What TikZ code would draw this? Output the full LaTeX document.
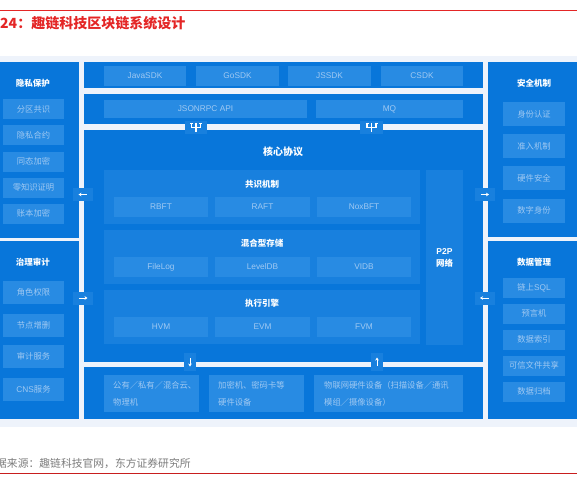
\documentclass[tikz,border=0pt]{standalone}
\usepackage{fontspec}
\setmainfont{Noto Sans CJK SC}
\newfontfamily\lat{Liberation Sans}
\usetikzlibrary{arrows.meta,calc}
\definecolor{bgc}{RGB}{238,243,251}
\definecolor{mainb}{RGB}{8,118,218}
\definecolor{subb}{RGB}{24,128,222}
\definecolor{boxb}{RGB}{40,139,227}
\definecolor{txtb}{RGB}{160,201,242}
\definecolor{redl}{RGB}{228,38,38}
\definecolor{redb}{RGB}{200,30,30}
\definecolor{grayt}{RGB}{125,125,125}
\begin{document}
\begin{tikzpicture}[x=1pt,y=-1pt,
  panel/.style={fill=mainb, inner sep=0pt, outer sep=0pt},
  subp/.style={fill=subb, inner sep=0pt, outer sep=0pt},
  box/.style={fill=boxb, text=txtb, inner sep=0pt, outer sep=0pt, font=\fontsize{8.3}{10}\selectfont},
  lbox/.style={box, font=\lat\fontsize{8.3}{10}\selectfont},
  ptitle/.style={text=white, inner sep=0pt, font=\bfseries\fontsize{8.5}{10}\selectfont},
  abox/.style={fill=subb, inner sep=0pt, outer sep=0pt},
  arr/.style={white, line width=1pt, -{Stealth[length=3pt,width=3.6pt]}},
  icon/.style={white, line width=1.3pt},
  btxt/.style={text=txtb, inner sep=0pt, align=left, font=\fontsize{8.3}{17}\selectfont},
]
\useasboundingbox (0,0) rectangle (577,483);
\clip (0,0) rectangle (577,483);
\fill[white] (0,0) rectangle (577,483);
% header and footer
\coordinate (rl1) at (0,10); \coordinate (rl2) at (577,10);
\draw[redl, line width=1pt] (rl1) -- (rl2);
\node[anchor=west, inner sep=0pt, text=redl, font=\bfseries\fontsize{14}{16}\selectfont] (title) at (0,23) {24：趣链科技区块链系统设计};
\coordinate (bl1) at (0,473); \coordinate (bl2) at (577,473);
\draw[redb, line width=1pt] (bl1) -- (bl2);
\node[anchor=west, inner sep=0pt, text=grayt, font=\fontsize{10.8}{12}\selectfont] (src) at (-4,463) {据来源：趣链科技官网，东方证券研究所};
% background band
\fill[bgc] (0,56) rectangle (577,427);

% ---------- left column ----------
\node[panel, minimum width=79, minimum height=176] (lp1) at (39.5,150) {};
\node[ptitle] (lp1t) at (33,83) {隐私保护};
\node[box, minimum width=61, minimum height=20] (l11) at (33.5,109) {分区共识};
\node[box, minimum width=61, minimum height=20] (l12) at (33.5,135) {隐私合约};
\node[box, minimum width=61, minimum height=20] (l13) at (33.5,161.5) {同态加密};
\node[box, minimum width=61, minimum height=20] (l14) at (33.5,187.5) {零知识证明};
\node[box, minimum width=61, minimum height=20] (l15) at (33.5,213.5) {账本加密};

\node[panel, minimum width=79, minimum height=178] (lp2) at (39.5,330) {};
\node[ptitle] (lp2t) at (33,262) {治理审计};
\node[box, minimum width=61, minimum height=23] (l21) at (33.5,292.5) {角色权限};
\node[box, minimum width=61, minimum height=23] (l22) at (33.5,325) {节点增删};
\node[box, minimum width=61, minimum height=23] (l23) at (33.5,356.5) {审计服务};
\node[box, minimum width=61, minimum height=23] (l24) at (33.5,389) {{\lat CNS}服务};

% ---------- right column ----------
\node[panel, minimum width=89, minimum height=175] (rp1) at (532.5,149.5) {};
\node[ptitle] (rp1t) at (534,83) {安全机制};
\node[box, minimum width=62, minimum height=24] (r11) at (534,114) {身份认证};
\node[box, minimum width=62, minimum height=24] (r12) at (534,146) {准入机制};
\node[box, minimum width=62, minimum height=24] (r13) at (534,178) {硬件安全};
\node[box, minimum width=62, minimum height=24] (r14) at (534,210.5) {数字身份};

\node[panel, minimum width=89, minimum height=178] (rp2) at (532.5,330) {};
\node[ptitle] (rp2t) at (534,262) {数据管理};
\node[box, minimum width=62, minimum height=20] (r21) at (534,288) {链上{\lat SQL}};
\node[box, minimum width=62, minimum height=20] (r22) at (534,313.5) {预言机};
\node[box, minimum width=62, minimum height=20] (r23) at (534,339.5) {数据索引};
\node[box, minimum width=62, minimum height=20] (r24) at (534,365.5) {可信文件共享};
\node[box, minimum width=62, minimum height=20] (r25) at (534,391.5) {数据归档};

% ---------- center column ----------
\node[panel, minimum width=399, minimum height=26] (sdk) at (283.5,75) {};
\node[lbox, minimum width=82, minimum height=20] (java) at (145,76) {JavaSDK};
\node[lbox, minimum width=83, minimum height=20] (go) at (237.5,76) {GoSDK};
\node[lbox, minimum width=83, minimum height=20] (js) at (329.5,76) {JSSDK};
\node[lbox, minimum width=82, minimum height=20] (cs) at (422,76) {CSDK};

\node[panel, minimum width=399, minimum height=30] (api) at (283.5,109) {};
\node[lbox, minimum width=203, minimum height=18] (rpc) at (205.5,109) {JSONRPC API};
\node[lbox, minimum width=147, minimum height=18] (mq) at (389.5,109) {MQ};

\node[panel, minimum width=399, minimum height=232] (core) at (283.5,246) {};
\node[text=white, inner sep=0pt, font=\bfseries\fontsize{10}{12}\selectfont] (coret) at (283,152) {核心协议};

\node[subp, minimum width=316, minimum height=54] (cons) at (262,197) {};
\node[ptitle] (const) at (262,184) {共识机制};
\node[lbox, minimum width=94, minimum height=20] (rbft) at (161,207) {RBFT};
\node[lbox, minimum width=95, minimum height=20] (raft) at (262.5,207) {RAFT};
\node[lbox, minimum width=94, minimum height=20] (nox) at (364,207) {NoxBFT};

\node[subp, minimum width=316, minimum height=54] (stor) at (262,257) {};
\node[ptitle] (stort) at (262,243) {混合型存储};
\node[lbox, minimum width=94, minimum height=20] (flog) at (161,267) {FileLog};
\node[lbox, minimum width=95, minimum height=20] (ldb) at (262.5,267) {LevelDB};
\node[lbox, minimum width=94, minimum height=20] (vidb) at (364,267) {VIDB};

\node[subp, minimum width=316, minimum height=54] (exec) at (262,317) {};
\node[ptitle] (exect) at (262,303) {执行引擎};
\node[lbox, minimum width=94, minimum height=20] (hvm) at (161,327) {HVM};
\node[lbox, minimum width=95, minimum height=20] (evm) at (262.5,327) {EVM};
\node[lbox, minimum width=94, minimum height=20] (fvm) at (364,327) {FVM};

\node[subp, minimum width=37, minimum height=175] (p2p) at (444.5,257.5) {};
\node[text=white, inner sep=0pt, align=center, font=\bfseries\fontsize{8.5}{12}\selectfont] (p2pt) at (444.5,258) {{\lat\bfseries P2P}\\网络};

\node[panel, minimum width=399, minimum height=52] (hw) at (283.5,393) {};
\node[box, minimum width=95, minimum height=37] (hw1) at (151.5,393.5) {};
\node[box, minimum width=95, minimum height=37] (hw2) at (256.5,393.5) {};
\node[box, minimum width=149, minimum height=37] (hw3) at (388.5,393.5) {};
\node[btxt, anchor=west] (hw1t) at ($(hw1.west)+(9,0)$) {公有／私有／混合云、\\物理机};
\node[btxt, anchor=west] (hw2t) at ($(hw2.west)+(9,0)$) {加密机、密码卡等\\硬件设备};
\node[btxt, anchor=west] (hw3t) at ($(hw3.west)+(10,0)$) {物联网硬件设备（扫描设备／通讯\\模组／摄像设备）};

% ---------- arrow boxes ----------
\node[abox, minimum width=20, minimum height=13] (la1) at (83,194.5) {};
\draw[arr] ($(la1)+(4,0)$) -- ($(la1)+(-4.5,0)$);
\node[abox, minimum width=20, minimum height=13] (la2) at (83,298) {};
\draw[arr] ($(la2)+(-4,0)$) -- ($(la2)+(4.5,0)$);
\node[abox, minimum width=20, minimum height=13] (ra1) at (484.5,194.5) {};
\draw[arr] ($(ra1)+(-4,0)$) -- ($(ra1)+(4.5,0)$);
\node[abox, minimum width=20, minimum height=13] (ra2) at (484.5,298) {};
\draw[arr] ($(ra2)+(4,0)$) -- ($(ra2)+(-4.5,0)$);
\node[abox, minimum width=12, minimum height=18] (da) at (190,362) {};
\draw[arr] ($(da)+(0,-4)$) -- ($(da)+(0,4.5)$);
\node[abox, minimum width=12, minimum height=18] (ua) at (377,362) {};
\draw[arr] ($(ua)+(0,4)$) -- ($(ua)+(0,-4.5)$);

% ---------- plug icons ----------
\node[abox, minimum width=22, minimum height=13] (ic1) at (196,127.5) {};
\node[abox, minimum width=23, minimum height=13] (ic2) at (371.5,127.5) {};
\foreach \ic in {ic1,ic2}{
  \draw[icon] ($(\ic)+(-4.5,-4.5)$) -- ($(\ic)+(-4.5,0)$) -- ($(\ic)+(4.5,0)$) -- ($(\ic)+(4.5,-4.5)$);
  \draw[icon] ($(\ic)+(0,-4.5)$) -- ($(\ic)+(0,4.5)$);
  \draw[icon, line width=1pt] ($(\ic)+(-6,-4.5)$) -- ($(\ic)+(-3,-4.5)$);
  \draw[icon, line width=1pt] ($(\ic)+(3,-4.5)$) -- ($(\ic)+(6,-4.5)$);
}
\end{tikzpicture}
\end{document}
